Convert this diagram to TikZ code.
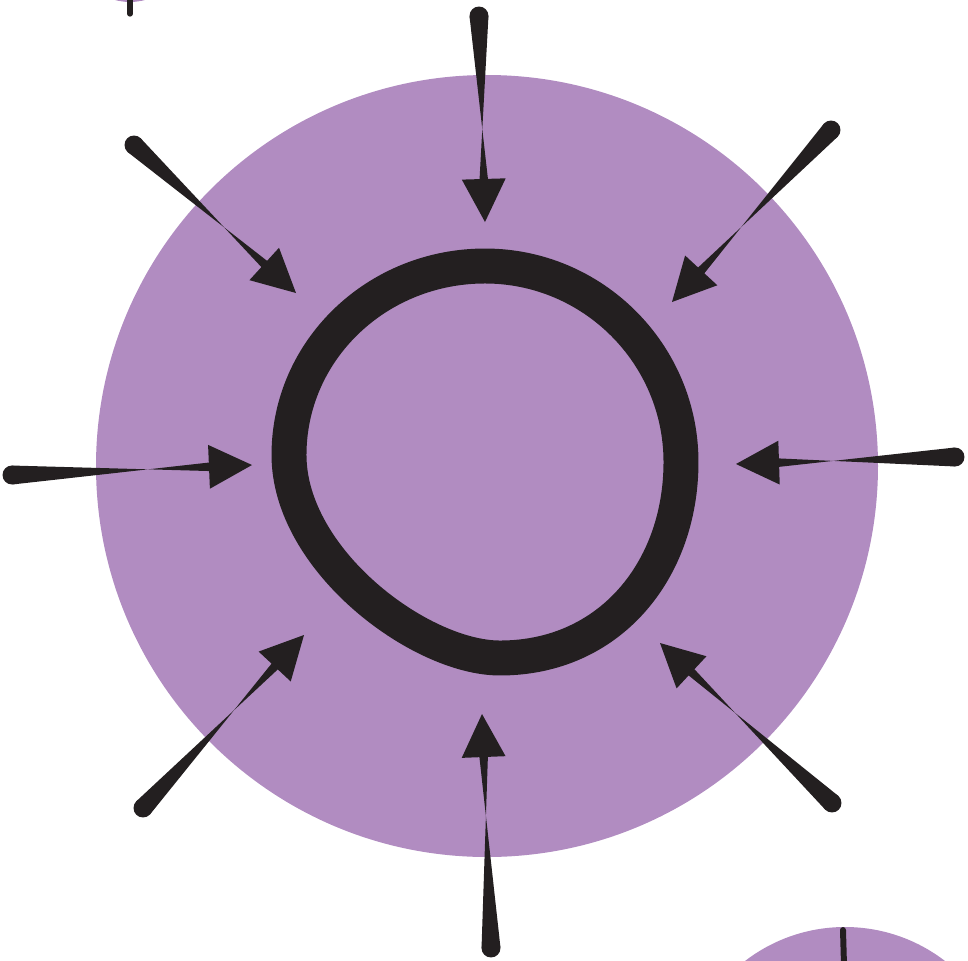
\documentclass[tikz,border=0pt]{standalone}
\usepackage{xcolor}
\usepackage{tikz}
\usetikzlibrary{calc}

\definecolor{lilac}{HTML}{B18CC1}
\definecolor{ink}{HTML}{231F20}

% tapered spike: #1 tail, #2 tip
\newcommand{\spike}[2]{%
  \fill[ink] (#1) circle[radius=5.4pt];
  \fill[ink] ($(#1)!5.4pt!90:(#2)$) -- ($(#2)!22pt!6.8:(#1)$)
    -- ($(#2)!22pt!-6.8:(#1)$) -- ($(#1)!5.4pt!-90:(#2)$) -- cycle;
  \fill[ink] (#2) -- ($(#2)!27.5pt!27:(#1)$) -- ($(#2)!27.5pt!-27:(#1)$) -- cycle;}

\begin{document}
\begin{tikzpicture}[x=0.02cm,y=-0.02cm]
			\useasboundingbox (0,0) rectangle (968,961);
			\clip (0,0) rectangle (968,961);
			% neighbours cut by the page edge
			\fill[lilac] (130,-55) circle (57);
			\draw[ink,line width=3pt,line cap=round] (130,0) -- (130,14);
			\fill[lilac] (845,1091) circle (164);
			\draw[ink,line width=3.4pt,line cap=round] (843,930) -- (844,965);
			% cell
			\fill[lilac] (487,466) circle (391);
			\draw[ink,line width=19.9pt] (485,266) .. controls (593,266) and (681,354) .. (681,462)
				.. controls (681,570) and (610,658) .. (500,658)
				.. controls (420,658) and (289,560) .. (289,455)
				.. controls (289,350) and (377,266) .. cycle;
			% tails and tips
			\coordinate (nT) at (479,16);   \coordinate (nH) at (485,222);
			\coordinate (neT) at (831,130); \coordinate (neH) at (672,302);
			\coordinate (eT) at (955,457);  \coordinate (eH) at (736,464);
			\coordinate (seT) at (832,803); \coordinate (seH) at (660,643);
			\coordinate (sT) at (491,948);  \coordinate (sH) at (482,714);
			\coordinate (swT) at (143,808); \coordinate (swH) at (304,635);
			\coordinate (wT) at (12,475);   \coordinate (wH) at (252,465);
			\coordinate (nwT) at (134,145); \coordinate (nwH) at (296,293);
			\foreach \d in {n,ne,e,se,s,sw,w,nw}
				\spike{\d T}{\d H};
		\end{tikzpicture}
\end{document}
